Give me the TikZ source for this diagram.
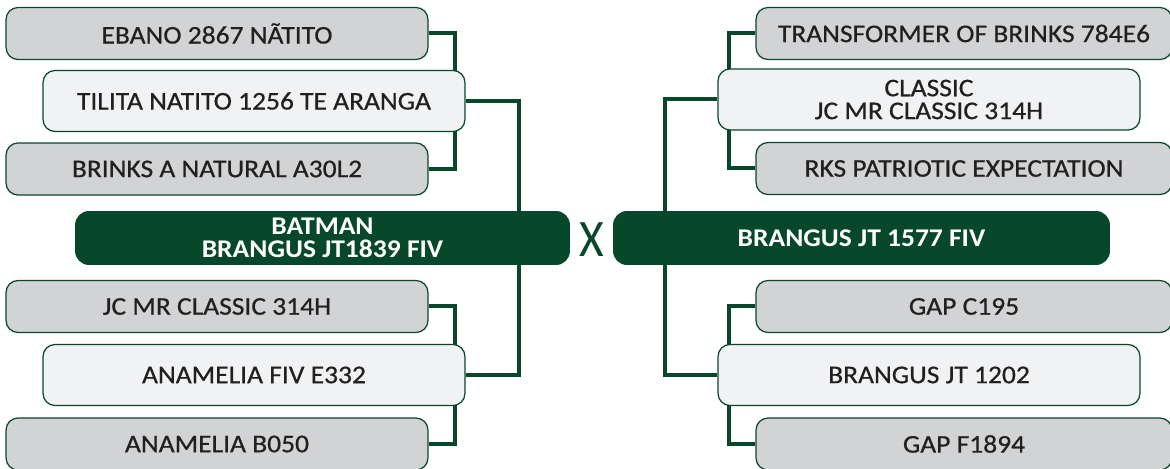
\documentclass[tikz,border=0pt]{standalone}
\usepackage{fontspec}
\setmainfont{Carlito}[FakeStretch=1.08, UprightFeatures={FakeBold=0.6}]
\newfontfamily\crossfont{Carlito}[FakeStretch=0.9]
\usetikzlibrary{backgrounds}
\definecolor{pedgreen}{RGB}{7,72,43}
\definecolor{boxgray}{RGB}{209,211,212}
\definecolor{boxlight}{RGB}{241,242,243}
\definecolor{pedtext}{RGB}{35,31,32}
\newcommand\pedfont{\fontsize{14.5}{13}\selectfont}
\tikzset{
  outerbox/.style={draw=pedgreen, line width=0.7pt, fill=boxgray, rounded corners=0.24cm,
    minimum width=8.44cm, minimum height=1.04cm, inner sep=0pt, text=pedtext, align=center},
  innerbox/.style={outerbox, fill=boxlight, minimum height=1.22cm},
  mainbox/.style={fill=pedgreen, rounded corners=0.28cm, minimum width=9.9cm, minimum height=1.08cm,
    inner sep=0pt, text=white, font=\pedfont\bfseries, align=center},
  link/.style={draw=pedgreen, line width=0.08cm}
}
\begin{document}
\begin{tikzpicture}[x=0.02cm, y=-0.02cm, font=\pedfont]
            \useasboundingbox (0,0) rectangle (1170,469);
            \node[outerbox] (ebano) at (217,33.5) {EBANO 2867 NÃTITO};
            \node[innerbox] (tilita) at (254,101) {TILITA NATITO 1256 TE ARANGA};
            \node[outerbox] (brinks) at (217,169) {BRINKS A NATURAL A30L2};
            \node[mainbox] (batman) at (322.5,238) {BATMAN\\BRANGUS JT1839 FIV};
            \node[outerbox] (jcmr) at (217,306.5) {JC MR CLASSIC 314H};
            \node[innerbox] (anamelia) at (254,375) {ANAMELIA FIV E332};
            \node[outerbox] (anab) at (217,444) {ANAMELIA B050};
            \node[text=pedgreen, font=\crossfont\fontsize{30}{30}\selectfont, inner sep=0pt] (cross) at (592,240) {X};
            \node[outerbox, minimum width=8.32cm] (transformer) at (964,33.5) {TRANSFORMER OF BRINKS 784E6};
            \node[innerbox] (classic) at (929,99.5) {CLASSIC\\JC MR CLASSIC 314H};
            \node[outerbox, minimum width=8.32cm] (rks) at (964,168.5) {RKS PATRIOTIC EXPECTATION};
            \node[mainbox, minimum width=9.94cm] (brangus) at (861.5,238) {BRANGUS JT 1577 FIV};
            \node[outerbox, minimum width=8.32cm] (gapc) at (964,306.5) {GAP C195};
            \node[innerbox] (brjt) at (929,375) {BRANGUS JT 1202};
            \node[outerbox, minimum width=8.32cm] (gapf) at (964,444) {GAP F1894};
            \begin{scope}[on background layer]
            \draw[link] (ebano.east) -- ++(26,0) |- (brinks.east);
            \draw[link] (jcmr.east) -- ++(26,0) |- (anab.east);
            \draw[link] (tilita.east) -- ++(53,0) coordinate (ltrunk) -- (ltrunk |- batman.north);
            \draw[link] (batman.south -| ltrunk) |- (anamelia.east);
            \draw[link] (transformer.west) -- ++(-26,0) |- (rks.west);
            \draw[link] (gapc.west) -- ++(-26,0) |- (gapf.west);
            \draw[link] (classic.west) -- ++(-52,0) coordinate (rtrunk) -- (rtrunk |- brangus.north);
            \draw[link] (brangus.south -| rtrunk) |- (brjt.west);
            \end{scope}
        \end{tikzpicture}
\end{document}
